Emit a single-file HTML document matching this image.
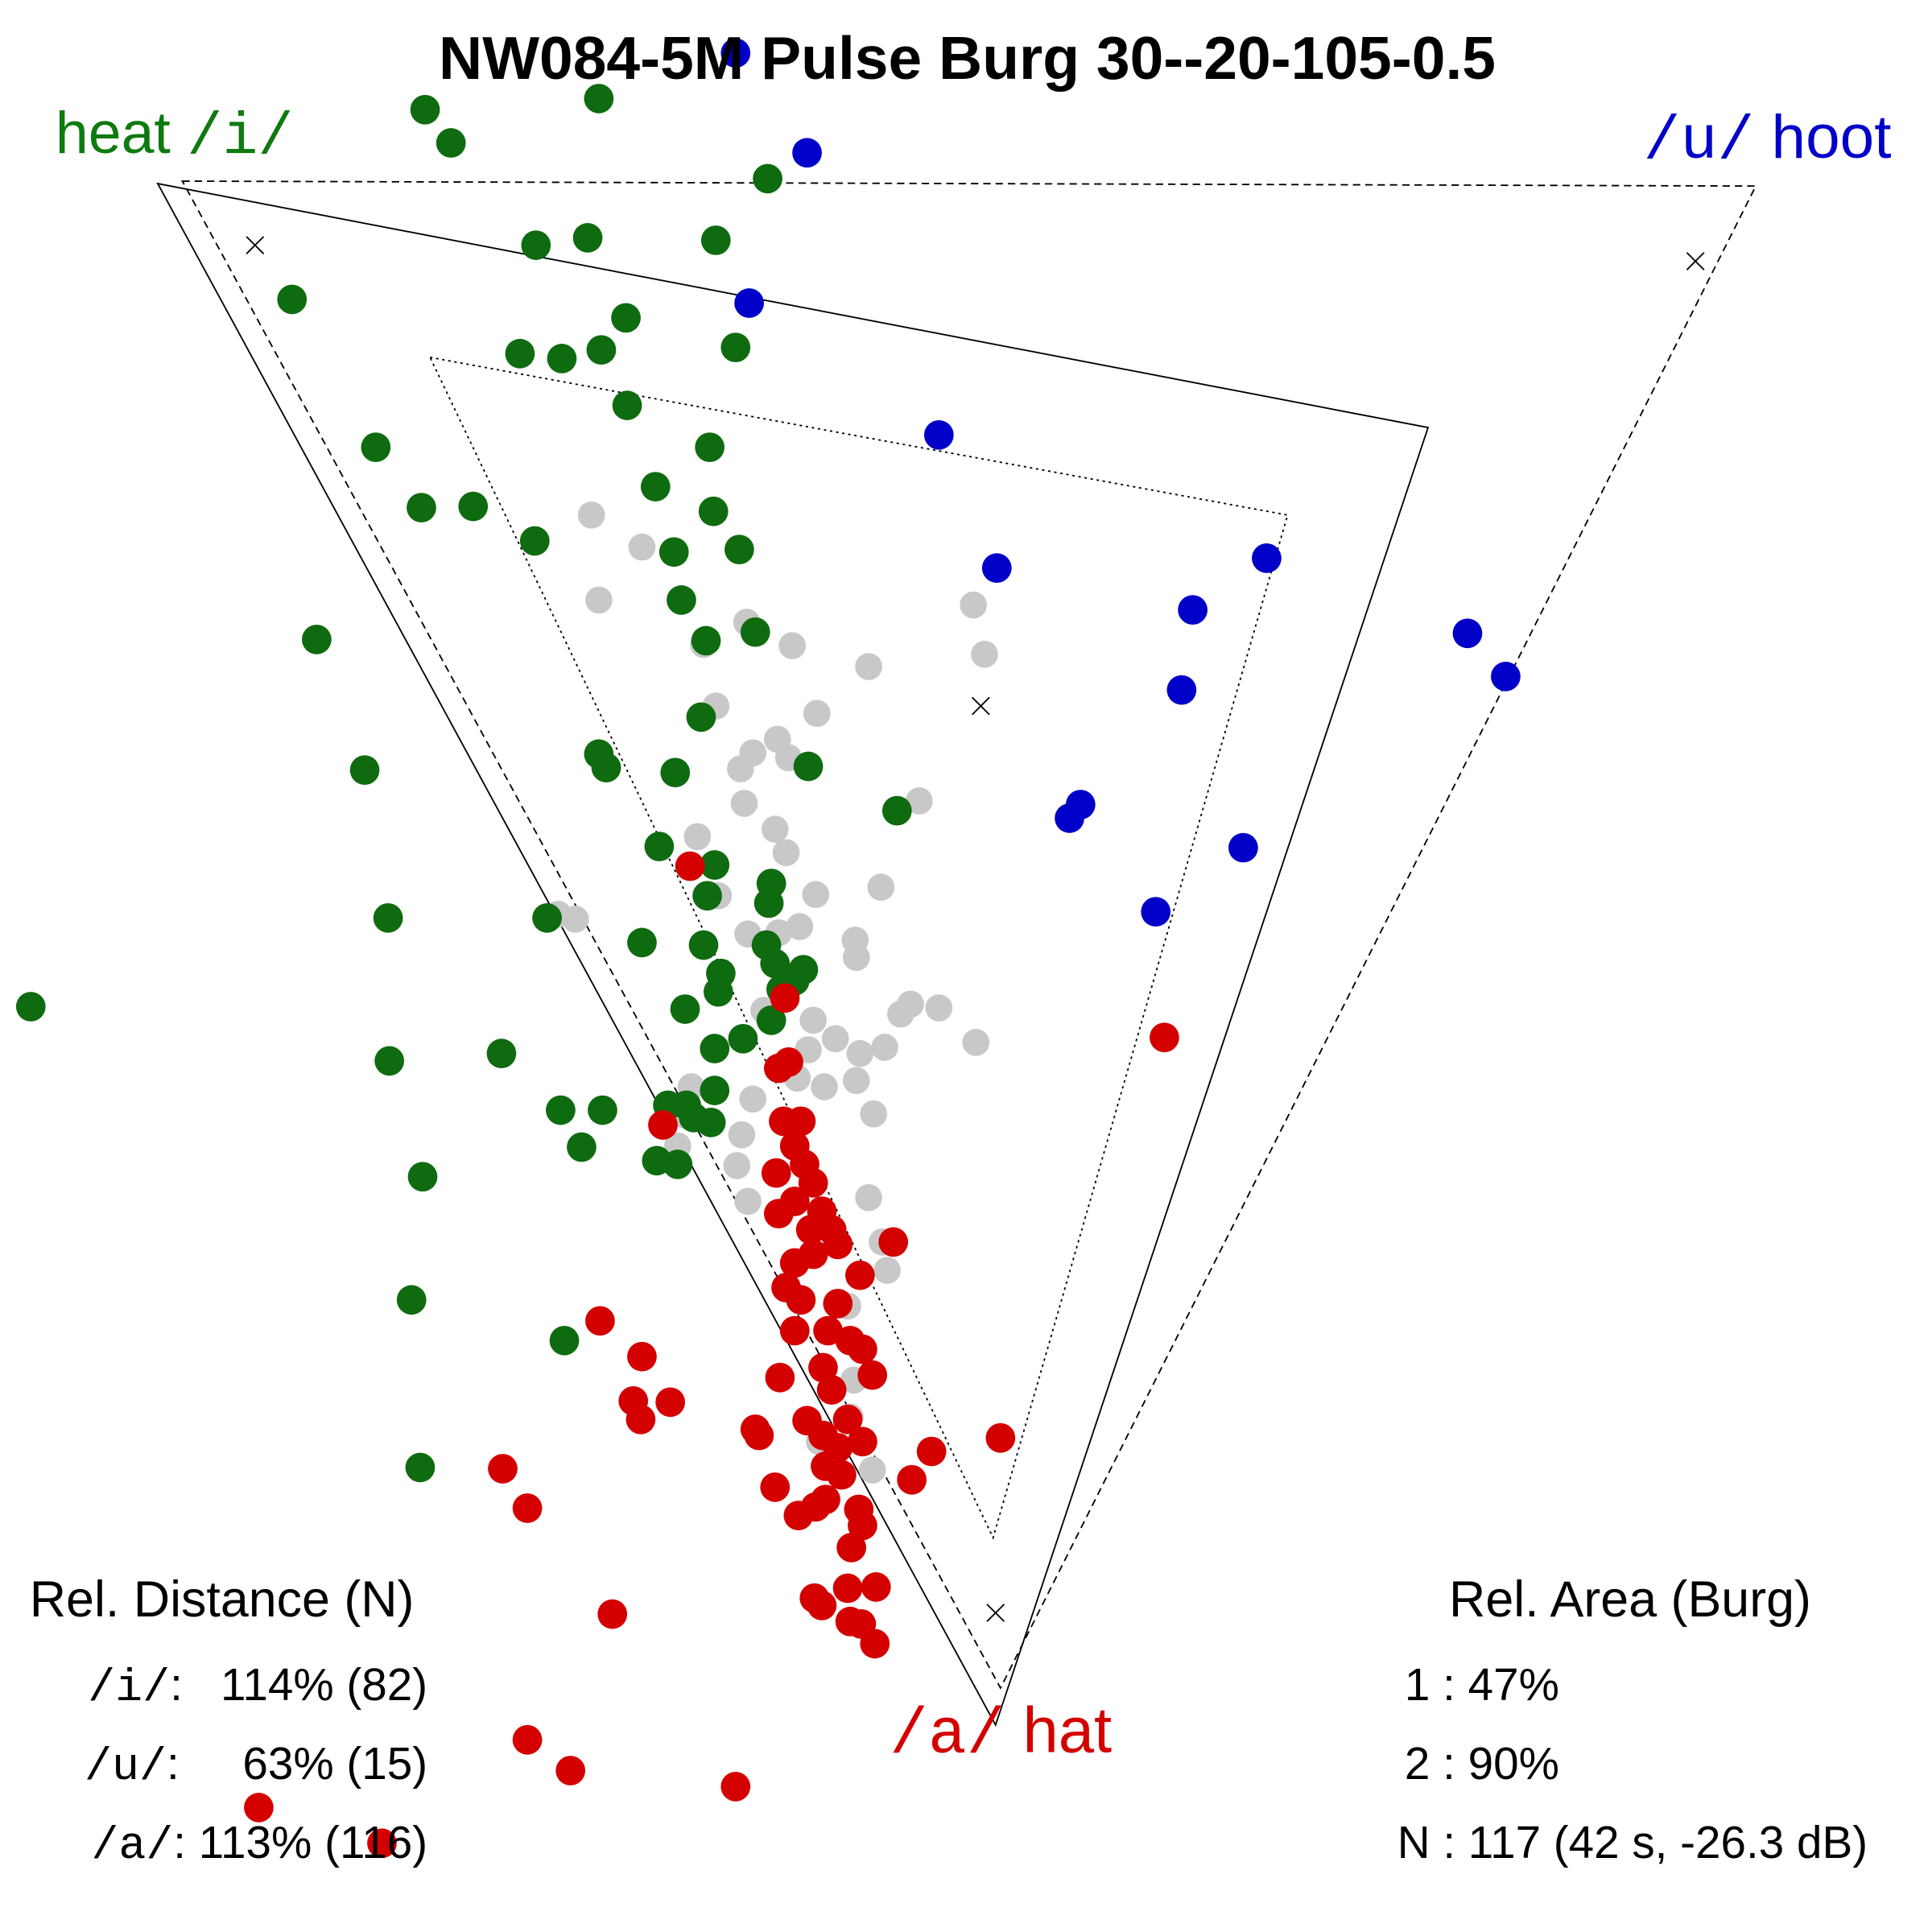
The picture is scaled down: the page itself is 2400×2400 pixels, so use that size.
<!DOCTYPE html>
<html><head><meta charset="utf-8"><style>html,body{margin:0;padding:0;background:#fff}svg{display:block}text{white-space:pre}</style></head>
<body>
<svg width="2400" height="2400" viewBox="0 0 1568 1568" xmlns="http://www.w3.org/2000/svg" font-family="Liberation Sans, sans-serif">
<rect width="1568" height="1568" fill="#fff"/>
<g fill="none" stroke="#000" stroke-width="1.2">
<polygon points="128,149 1159,347 808,1400"/>
<polygon points="148,147 1425,151 812,1370" stroke-dasharray="6,4"/>
<polygon points="349,290 1045,418 806,1248" stroke-dasharray="2,3"/>
<path d="M200,192l14,14M214,192l-14,14M1369,205l14,14M1383,205l-14,14M789,566l14,14M803,566l-14,14M801,1302l14,14M815,1302l-14,14"/>
</g>
<g fill="#c8c8c8">
<circle cx="480" cy="418" r="11"/><circle cx="521" cy="444" r="11"/><circle cx="486" cy="487" r="11"/><circle cx="606" cy="505" r="11"/><circle cx="643" cy="524" r="11"/><circle cx="705" cy="541" r="11"/><circle cx="790" cy="491" r="11"/><circle cx="799" cy="531" r="11"/><circle cx="571" cy="523" r="11"/><circle cx="581" cy="573" r="11"/><circle cx="663" cy="579" r="11"/><circle cx="631" cy="600" r="11"/><circle cx="611" cy="611" r="11"/><circle cx="640" cy="615" r="11"/><circle cx="601" cy="624" r="11"/><circle cx="604" cy="652" r="11"/><circle cx="629" cy="673" r="11"/><circle cx="638" cy="692" r="11"/><circle cx="566" cy="679" r="11"/><circle cx="746" cy="650" r="11"/><circle cx="715" cy="720" r="11"/><circle cx="662" cy="726" r="11"/><circle cx="583" cy="727" r="11"/><circle cx="467" cy="746" r="11"/><circle cx="453" cy="742" r="11"/><circle cx="607" cy="758" r="11"/><circle cx="632" cy="757" r="11"/><circle cx="649" cy="752" r="11"/><circle cx="694" cy="763" r="11"/><circle cx="695" cy="777" r="11"/><circle cx="739" cy="815" r="11"/><circle cx="731" cy="823" r="11"/><circle cx="762" cy="818" r="11"/><circle cx="792" cy="846" r="11"/><circle cx="718" cy="850" r="11"/><circle cx="698" cy="855" r="11"/><circle cx="678" cy="843" r="11"/><circle cx="660" cy="828" r="11"/><circle cx="656" cy="852" r="11"/><circle cx="647" cy="875" r="11"/><circle cx="669" cy="882" r="11"/><circle cx="695" cy="877" r="11"/><circle cx="709" cy="904" r="11"/><circle cx="611" cy="892" r="11"/><circle cx="602" cy="921" r="11"/><circle cx="598" cy="946" r="11"/><circle cx="607" cy="975" r="11"/><circle cx="705" cy="972" r="11"/><circle cx="561" cy="882" r="11"/><circle cx="556" cy="905" r="11"/><circle cx="550" cy="930" r="11"/><circle cx="716" cy="1008" r="11"/><circle cx="720" cy="1031" r="11"/><circle cx="688" cy="1060" r="11"/><circle cx="693" cy="1120" r="11"/><circle cx="708" cy="1193" r="11"/><circle cx="665" cy="1170" r="11"/><circle cx="690" cy="1150" r="11"/><circle cx="640" cy="800" r="11"/><circle cx="620" cy="820" r="11"/>
</g>
<g fill="#0f6b0f">
<circle cx="345" cy="89" r="12"/><circle cx="486" cy="80" r="12"/><circle cx="366" cy="116" r="12"/><circle cx="623" cy="145" r="12"/><circle cx="435" cy="199" r="12"/><circle cx="477" cy="193" r="12"/><circle cx="581" cy="195" r="12"/><circle cx="237" cy="243" r="12"/><circle cx="508" cy="258" r="12"/><circle cx="422" cy="287" r="12"/><circle cx="456" cy="291" r="12"/><circle cx="488" cy="284" r="12"/><circle cx="597" cy="282" r="12"/><circle cx="509" cy="329" r="12"/><circle cx="305" cy="363" r="12"/><circle cx="576" cy="363" r="12"/><circle cx="532" cy="395" r="12"/><circle cx="342" cy="412" r="12"/><circle cx="384" cy="411" r="12"/><circle cx="579" cy="415" r="12"/><circle cx="434" cy="439" r="12"/><circle cx="547" cy="448" r="12"/><circle cx="600" cy="446" r="12"/><circle cx="553" cy="487" r="12"/><circle cx="257" cy="519" r="12"/><circle cx="573" cy="520" r="12"/><circle cx="613" cy="513" r="12"/><circle cx="569" cy="582" r="12"/><circle cx="486" cy="612" r="12"/><circle cx="492" cy="623" r="12"/><circle cx="548" cy="627" r="12"/><circle cx="656" cy="622" r="12"/><circle cx="296" cy="625" r="12"/><circle cx="728" cy="658" r="12"/><circle cx="535" cy="687" r="12"/><circle cx="580" cy="702" r="12"/><circle cx="626" cy="717" r="12"/><circle cx="574" cy="727" r="12"/><circle cx="624" cy="733" r="12"/><circle cx="315" cy="745" r="12"/><circle cx="444" cy="745" r="12"/><circle cx="521" cy="765" r="12"/><circle cx="571" cy="767" r="12"/><circle cx="622" cy="767" r="12"/><circle cx="629" cy="782" r="12"/><circle cx="652" cy="787" r="12"/><circle cx="585" cy="790" r="12"/><circle cx="645" cy="796" r="12"/><circle cx="634" cy="803" r="12"/><circle cx="583" cy="805" r="12"/><circle cx="25" cy="817" r="12"/><circle cx="556" cy="819" r="12"/><circle cx="626" cy="828" r="12"/><circle cx="603" cy="843" r="12"/><circle cx="580" cy="851" r="12"/><circle cx="316" cy="861" r="12"/><circle cx="407" cy="855" r="12"/><circle cx="580" cy="885" r="12"/><circle cx="455" cy="901" r="12"/><circle cx="489" cy="901" r="12"/><circle cx="542" cy="897" r="12"/><circle cx="557" cy="897" r="12"/><circle cx="563" cy="907" r="12"/><circle cx="577" cy="911" r="12"/><circle cx="472" cy="931" r="12"/><circle cx="533" cy="942" r="12"/><circle cx="550" cy="945" r="12"/><circle cx="343" cy="955" r="12"/><circle cx="334" cy="1055" r="12"/><circle cx="458" cy="1088" r="12"/><circle cx="341" cy="1191" r="12"/>
</g>
<g fill="#0000c8">
<circle cx="597" cy="43" r="12"/><circle cx="655" cy="124" r="12"/><circle cx="608" cy="246" r="12"/><circle cx="762" cy="353" r="12"/><circle cx="809" cy="461" r="12"/><circle cx="1028" cy="453" r="12"/><circle cx="968" cy="495" r="12"/><circle cx="1191" cy="514" r="12"/><circle cx="1222" cy="549" r="12"/><circle cx="959" cy="560" r="12"/><circle cx="877" cy="653" r="12"/><circle cx="868" cy="664" r="12"/><circle cx="1009" cy="688" r="12"/><circle cx="938" cy="740" r="12"/>
</g>
<g fill="#d40000">
<circle cx="560" cy="703" r="12"/><circle cx="637" cy="810" r="12"/><circle cx="945" cy="842" r="12"/><circle cx="632" cy="867" r="12"/><circle cx="640" cy="862" r="12"/><circle cx="538" cy="913" r="12"/><circle cx="636" cy="910" r="12"/><circle cx="650" cy="910" r="12"/><circle cx="645" cy="930" r="12"/><circle cx="653" cy="945" r="12"/><circle cx="630" cy="952" r="12"/><circle cx="660" cy="960" r="12"/><circle cx="645" cy="975" r="12"/><circle cx="667" cy="983" r="12"/><circle cx="632" cy="985" r="12"/><circle cx="658" cy="998" r="12"/><circle cx="675" cy="998" r="12"/><circle cx="680" cy="1010" r="12"/><circle cx="725" cy="1008" r="12"/><circle cx="660" cy="1018" r="12"/><circle cx="645" cy="1025" r="12"/><circle cx="698" cy="1035" r="12"/><circle cx="638" cy="1045" r="12"/><circle cx="650" cy="1055" r="12"/><circle cx="680" cy="1058" r="12"/><circle cx="645" cy="1080" r="12"/><circle cx="672" cy="1080" r="12"/><circle cx="690" cy="1088" r="12"/><circle cx="700" cy="1095" r="12"/><circle cx="487" cy="1072" r="12"/><circle cx="521" cy="1101" r="12"/><circle cx="668" cy="1110" r="12"/><circle cx="633" cy="1118" r="12"/><circle cx="708" cy="1116" r="12"/><circle cx="675" cy="1128" r="12"/><circle cx="514" cy="1137" r="12"/><circle cx="544" cy="1138" r="12"/><circle cx="520" cy="1152" r="12"/><circle cx="655" cy="1153" r="12"/><circle cx="688" cy="1152" r="12"/><circle cx="613" cy="1160" r="12"/><circle cx="616" cy="1165" r="12"/><circle cx="668" cy="1165" r="12"/><circle cx="700" cy="1170" r="12"/><circle cx="680" cy="1175" r="12"/><circle cx="812" cy="1167" r="12"/><circle cx="756" cy="1178" r="12"/><circle cx="740" cy="1201" r="12"/><circle cx="670" cy="1190" r="12"/><circle cx="683" cy="1197" r="12"/><circle cx="408" cy="1192" r="12"/><circle cx="629" cy="1207" r="12"/><circle cx="670" cy="1217" r="12"/><circle cx="697" cy="1225" r="12"/><circle cx="662" cy="1223" r="12"/><circle cx="648" cy="1230" r="12"/><circle cx="700" cy="1238" r="12"/><circle cx="428" cy="1224" r="12"/><circle cx="691" cy="1256" r="12"/><circle cx="688" cy="1289" r="12"/><circle cx="711" cy="1288" r="12"/><circle cx="661" cy="1297" r="12"/><circle cx="667" cy="1303" r="12"/><circle cx="497" cy="1310" r="12"/><circle cx="690" cy="1316" r="12"/><circle cx="699" cy="1318" r="12"/><circle cx="710" cy="1334" r="12"/><circle cx="428" cy="1412" r="12"/><circle cx="463" cy="1437" r="12"/><circle cx="597" cy="1450" r="12"/><circle cx="210" cy="1467" r="12"/><circle cx="310" cy="1496" r="12"/>
</g>
<text x="785" y="64" text-anchor="middle" font-size="49" font-weight="bold">NW084-5M Pulse Burg 30--20-105-0.5</text>
<text x="45" y="124" font-size="48" fill="#0f7a0f">heat <tspan font-family="Liberation Mono, monospace">/i/</tspan></text>
<text x="1535" y="128" text-anchor="end" font-size="50" fill="#0000c8"><tspan font-family="Liberation Mono, monospace">/u/</tspan> hoot</text>
<text x="722" y="1422" font-size="52" fill="#d40000"><tspan font-family="Liberation Mono, monospace">/a/</tspan> hat</text>
<g font-size="37">
<text x="24" y="1312" font-size="41">Rel. Distance (N)</text>
<text x="347" y="1380" text-anchor="end"><tspan font-family="Liberation Mono, monospace">/i/</tspan>:   114% (82)</text>
<text x="347" y="1444" text-anchor="end"><tspan font-family="Liberation Mono, monospace">/u/</tspan>:     63% (15)</text>
<text x="347" y="1508" text-anchor="end"><tspan font-family="Liberation Mono, monospace">/a/</tspan>: 113% (116)</text>
<text x="1176" y="1312" font-size="41">Rel. Area (Burg)</text>
<text x="1140" y="1380">1 : 47%</text>
<text x="1140" y="1444">2 : 90%</text>
<text x="1134" y="1508">N : 117 (42 s, -26.3 dB)</text>
</g>
</svg>
</body></html>
